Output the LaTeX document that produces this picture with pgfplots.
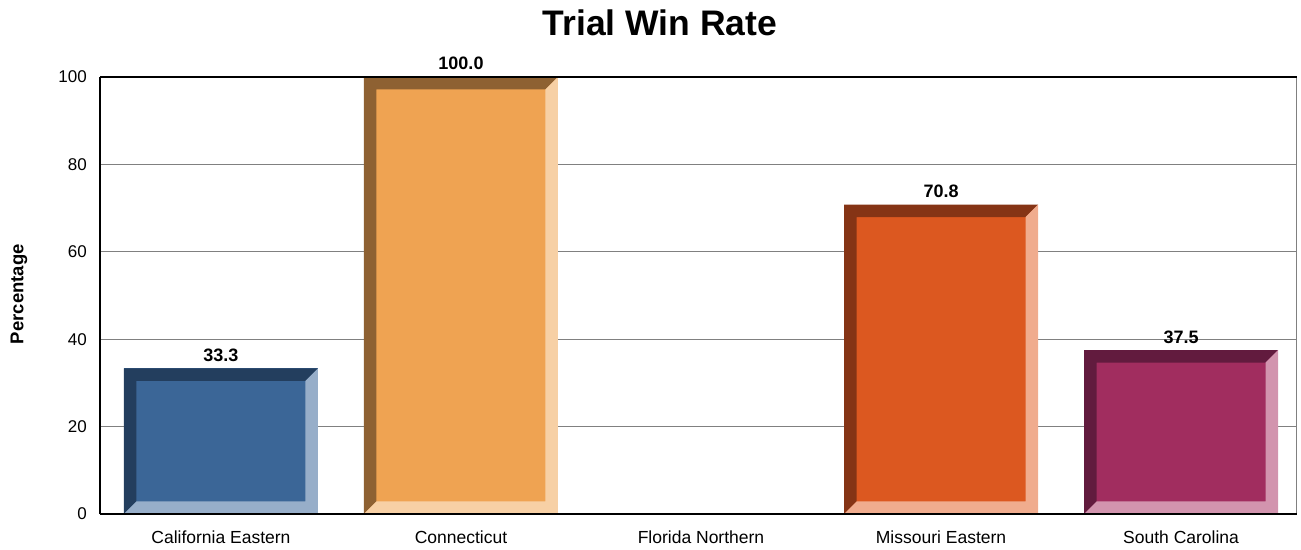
\documentclass[border=0pt]{standalone}
\usepackage{fontspec}
\setmainfont{Liberation Sans}
\usepackage{pgfplots}
\usepackage{pgfplotstable}
\pgfplotsset{compat=1.18}

\definecolor{caM}{HTML}{3B6697}\definecolor{caD}{HTML}{233E5E}\definecolor{caL}{HTML}{97AEC9}
\definecolor{ctM}{HTML}{EFA352}\definecolor{ctD}{HTML}{8E6132}\definecolor{ctL}{HTML}{F7D0A5}
\definecolor{moM}{HTML}{DC5820}\definecolor{moD}{HTML}{853415}\definecolor{moL}{HTML}{F0AC8E}
\definecolor{scM}{HTML}{A12D5F}\definecolor{scD}{HTML}{621B3E}\definecolor{scL}{HTML}{D294AE}
\definecolor{gridgray}{HTML}{808080}

\pgfplotstableread{
x y
0 33.3
1 100.0
2 0
3 70.8
4 37.5
}\trialdata

\newcommand\bevelpaint[2]{%
  \pgfpointanchor{path picture bounding box}{south west}\pgfgetlastxy{\bxa}{\bya}%
  \pgfpointanchor{path picture bounding box}{north east}\pgfgetlastxy{\bxb}{\byb}%
  \pgfpathmoveto{\pgfqpoint{\bxa}{\bya}}%
  \pgfpathlineto{\pgfqpoint{\bxa}{\byb}}%
  \pgfpathlineto{\pgfqpoint{\bxb}{\byb}}%
  \pgfpathlineto{\pgfpoint{\bxb-12.5bp}{\byb-12.5bp}}%
  \pgfpathlineto{\pgfpoint{\bxa+12.5bp}{\byb-12.5bp}}%
  \pgfpathlineto{\pgfpoint{\bxa+12.5bp}{\bya+12.5bp}}%
  \pgfpathclose
  \pgfsetfillcolor{#1}\pgfusepath{fill}%
  \pgfpathmoveto{\pgfqpoint{\bxa}{\bya}}%
  \pgfpathlineto{\pgfqpoint{\bxb}{\bya}}%
  \pgfpathlineto{\pgfqpoint{\bxb}{\byb}}%
  \pgfpathlineto{\pgfpoint{\bxb-12.5bp}{\byb-12.5bp}}%
  \pgfpathlineto{\pgfpoint{\bxb-12.5bp}{\bya+12.5bp}}%
  \pgfpathlineto{\pgfpoint{\bxa+12.5bp}{\bya+12.5bp}}%
  \pgfpathclose
  \pgfsetfillcolor{#2}\pgfusepath{fill}%
}

\tikzset{
  bevel/.style n args={3}{fill=#1, draw=none, path picture={\bevelpaint{#2}{#3}}}
}

\begin{document}
\begin{tikzpicture}
\useasboundingbox (0,0) rectangle (1301bp,550bp);
\begin{axis}[
  at={(100bp,36bp)}, anchor=south west,
  scale only axis, width=1197bp, height=437bp,
  xmin=-0.504, xmax=4.483, ymin=0, ymax=100,
  ybar, bar shift=0pt, bar width=194bp,
  xtick={0,1,2,3,4},
  xticklabels={California Eastern, Connecticut, Florida Northern, Missouri Eastern, South Carolina},
  ytick={0,20,40,60,80,100},
  major tick length=0pt,
  /pgf/number format/assume math mode=true,
  xticklabel style={anchor=base, yshift=-29bp, inner sep=0pt, font=\fontsize{17.5bp}{20bp}\selectfont},
  yticklabel style={anchor=east, xshift=-13bp, inner sep=0pt, font=\fontsize{17bp}{20bp}\selectfont},
  ymajorgrids, grid style={gridgray, line width=1bp},
  axis line style={draw=none},
  clip=false,
  title={Trial Win Rate},
  title style={at={(0.4678,1)}, anchor=base, yshift=36bp, inner sep=0pt, font=\bfseries\fontsize{35.5bp}{40bp}\selectfont},
  ylabel={Percentage},
  ylabel style={at={(-0.0677,0.503)}, anchor=center, inner sep=0pt, font=\bfseries\fontsize{18.5bp}{20bp}\selectfont},
  every node near coord/.append style={anchor=base, inner sep=0pt, yshift=7bp, text=black, font=\bfseries\fontsize{18bp}{20bp}\selectfont},
  nodes near coords style={/pgf/number format/.cd, fixed, fixed zerofill, precision=1},
]
\addplot[bevel={caM}{caD}{caL}, restrict x to domain=-0.1:0.1] table[x=x,y=y] {\trialdata};
\addplot[bevel={ctM}{ctD}{ctL}, restrict x to domain=0.9:1.1] table[x=x,y=y] {\trialdata};
\addplot[bevel={moM}{moD}{moL}, restrict x to domain=2.9:3.1] table[x=x,y=y] {\trialdata};
\addplot[bevel={scM}{scD}{scL}, restrict x to domain=3.9:4.1] table[x=x,y=y] {\trialdata};
\addplot[draw=none, fill=none, nodes near coords, restrict y to domain=0.1:200] table[x=x,y=y] {\trialdata};
\draw[gridgray, line width=1bp] (rel axis cs:1,0) -- (rel axis cs:1,1);
\draw[black, line width=1.5bp] (rel axis cs:0,1) -- (rel axis cs:1,1);
\draw[black, line width=1.5bp] (rel axis cs:0,0) -- (rel axis cs:0,1);
\draw[black, line width=2bp] (rel axis cs:0,0) -- (rel axis cs:1,0);
\end{axis}
\end{tikzpicture}
\end{document}
